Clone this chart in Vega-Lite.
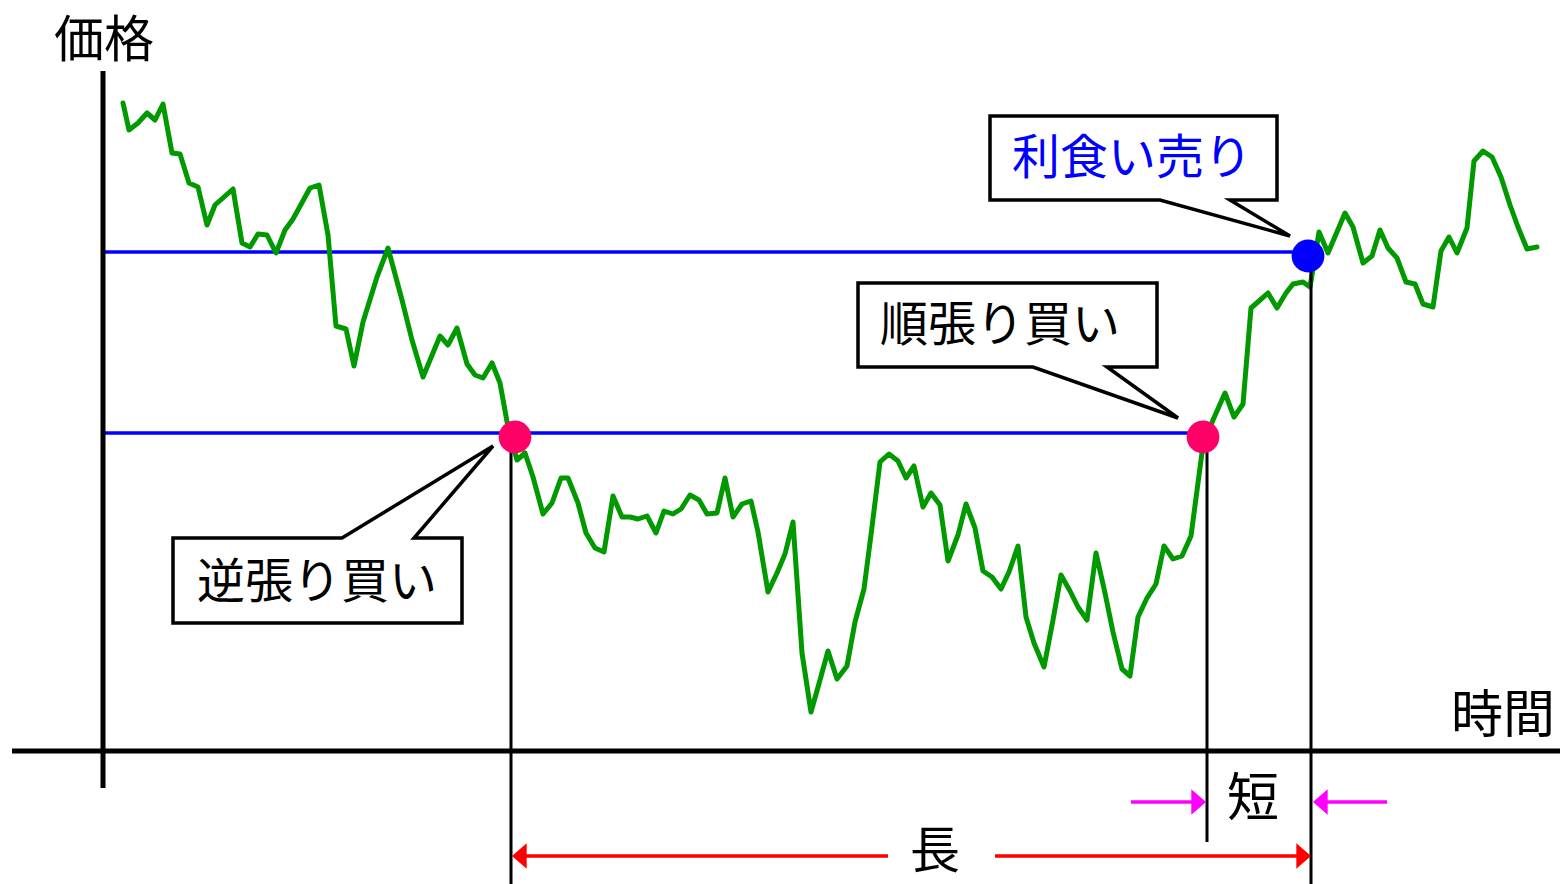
{
  "$schema": "https://vega.github.io/schema/vega-lite/v6.json",
  "width": 1560,
  "height": 884,
  "autosize": {"type": "none"},
  "padding": 0,
  "background": "white",
  "config": {"view": {"stroke": null}},
  "resolve": {"scale": {"color": "independent", "shape": "independent"}},
  "encoding": {
    "x": {"field": "x", "type": "quantitative", "scale": {"domain": [0, 1560], "nice": false, "zero": false}, "axis": null},
    "y": {"field": "y", "type": "quantitative", "scale": {"domain": [0, 884], "reverse": true, "nice": false, "zero": false}, "axis": null}
  },
  "layer": [
    {
      "data": {"values": [{"x": 104, "x2": 1200, "y": 433}, {"x": 104, "x2": 1300, "y": 252}]},
      "mark": {"type": "rule", "color": "#0000ff", "strokeWidth": 3.5},
      "encoding": {"x2": {"field": "x2"}}
    },
    {
      "data": {"values": [
        {"x":123,"y":103},{"x":129,"y":130},{"x":138,"y":123},{"x":147,"y":113},{"x":155,"y":120},{"x":163,"y":104},{"x":172,"y":153},{"x":180,"y":154},{"x":189,"y":183},{"x":198,"y":187},{"x":207,"y":225},{"x":215,"y":205},{"x":233,"y":189},{"x":242,"y":243},{"x":250,"y":247},{"x":258,"y":234},{"x":267,"y":235},{"x":276,"y":253},{"x":285,"y":230},{"x":293,"y":219},{"x":310,"y":188},{"x":319,"y":185},{"x":328,"y":235},{"x":336,"y":326},{"x":346,"y":329},{"x":354,"y":366},{"x":363,"y":322},{"x":377,"y":277},{"x":388,"y":248},{"x":402,"y":300},{"x":412,"y":340},{"x":423,"y":377},{"x":440,"y":336},{"x":448,"y":345},{"x":457,"y":328},{"x":467,"y":364},{"x":475,"y":375},{"x":483,"y":378},{"x":492,"y":363},{"x":500,"y":383},{"x":508,"y":427},{"x":517,"y":460},{"x":525,"y":453},{"x":533,"y":477},{"x":543,"y":514},{"x":552,"y":503},{"x":561,"y":478},{"x":568,"y":478},{"x":578,"y":503},{"x":586,"y":533},{"x":595,"y":548},{"x":604,"y":552},{"x":613,"y":496},{"x":622,"y":517},{"x":630,"y":517},{"x":638,"y":519},{"x":647,"y":516},{"x":656,"y":533},{"x":664,"y":511},{"x":673,"y":514},{"x":681,"y":509},{"x":690,"y":495},{"x":699,"y":500},{"x":707,"y":514},{"x":717,"y":513},{"x":725,"y":478},{"x":733,"y":517},{"x":742,"y":504},{"x":751,"y":501},{"x":758,"y":532},{"x":768,"y":592},{"x":777,"y":573},{"x":785,"y":554},{"x":793,"y":522},{"x":802,"y":653},{"x":811,"y":712},{"x":820,"y":680},{"x":828,"y":651},{"x":837,"y":679},{"x":847,"y":666},{"x":855,"y":622},{"x":864,"y":589},{"x":872,"y":527},{"x":880,"y":462},{"x":889,"y":454},{"x":898,"y":461},{"x":906,"y":478},{"x":914,"y":466},{"x":923,"y":507},{"x":931,"y":493},{"x":940,"y":505},{"x":948,"y":561},{"x":958,"y":535},{"x":966,"y":504},{"x":975,"y":528},{"x":983,"y":571},{"x":992,"y":577},{"x":1001,"y":589},{"x":1009,"y":572},{"x":1018,"y":546},{"x":1026,"y":617},{"x":1034,"y":643},{"x":1044,"y":667},{"x":1053,"y":620},{"x":1061,"y":575},{"x":1070,"y":591},{"x":1078,"y":607},{"x":1087,"y":620},{"x":1096,"y":553},{"x":1105,"y":593},{"x":1113,"y":632},{"x":1122,"y":669},{"x":1130,"y":676},{"x":1138,"y":617},{"x":1147,"y":598},{"x":1156,"y":584},{"x":1164,"y":546},{"x":1173,"y":559},{"x":1182,"y":556},{"x":1191,"y":536},{"x":1203,"y":445},{"x":1213,"y":420},{"x":1225,"y":393},{"x":1234,"y":417},{"x":1243,"y":404},{"x":1251,"y":308},{"x":1259,"y":301},{"x":1268,"y":293},{"x":1277,"y":308},{"x":1286,"y":293},{"x":1293,"y":284},{"x":1303,"y":282},{"x":1310,"y":287},{"x":1319,"y":232},{"x":1328,"y":253},{"x":1345,"y":213},{"x":1353,"y":227},{"x":1363,"y":263},{"x":1372,"y":256},{"x":1380,"y":230},{"x":1388,"y":248},{"x":1397,"y":258},{"x":1406,"y":282},{"x":1415,"y":284},{"x":1423,"y":304},{"x":1433,"y":307},{"x":1441,"y":251},{"x":1449,"y":237},{"x":1457,"y":253},{"x":1467,"y":228},{"x":1474,"y":161},{"x":1483,"y":151},{"x":1492,"y":157},{"x":1501,"y":177},{"x":1510,"y":205},{"x":1518,"y":227},{"x":1527,"y":249},{"x":1537,"y":247}
      ]},
      "mark": {"type": "line", "color": "#009900", "strokeWidth": 5, "strokeJoin": "round", "strokeCap": "round"},
      "encoding": {}
    },
    {
      "data": {"values": [{"x": 511, "y": 437, "y2": 884}, {"x": 1207, "y": 437, "y2": 842}, {"x": 1311, "y": 256, "y2": 884}]},
      "mark": {"type": "rule", "color": "#000000", "strokeWidth": 3},
      "encoding": {"y2": {"field": "y2"}}
    },
    {
      "data": {"values": [{"x": 12, "x2": 1560, "y": 751, "y2": 751}, {"x": 103, "x2": 103, "y": 71, "y2": 788}]},
      "mark": {"type": "rule", "color": "#000000", "strokeWidth": 5},
      "encoding": {"x2": {"field": "x2"}, "y2": {"field": "y2"}}
    },
    {
      "data": {"values": [
        {"id": "A", "o": 0, "x": 173, "y": 538}, {"id": "A", "o": 1, "x": 342, "y": 538}, {"id": "A", "o": 2, "x": 493, "y": 446}, {"id": "A", "o": 3, "x": 414, "y": 538}, {"id": "A", "o": 4, "x": 462, "y": 538}, {"id": "A", "o": 5, "x": 462, "y": 623}, {"id": "A", "o": 6, "x": 173, "y": 623}, {"id": "A", "o": 7, "x": 173, "y": 538},
        {"id": "B", "o": 0, "x": 858, "y": 283}, {"id": "B", "o": 1, "x": 1157, "y": 283}, {"id": "B", "o": 2, "x": 1157, "y": 367}, {"id": "B", "o": 3, "x": 1107, "y": 367}, {"id": "B", "o": 4, "x": 1178, "y": 418}, {"id": "B", "o": 5, "x": 1033, "y": 367}, {"id": "B", "o": 6, "x": 858, "y": 367}, {"id": "B", "o": 7, "x": 858, "y": 283},
        {"id": "C", "o": 0, "x": 990, "y": 116}, {"id": "C", "o": 1, "x": 1277, "y": 116}, {"id": "C", "o": 2, "x": 1277, "y": 200}, {"id": "C", "o": 3, "x": 1230, "y": 200}, {"id": "C", "o": 4, "x": 1290, "y": 236}, {"id": "C", "o": 5, "x": 1160, "y": 200}, {"id": "C", "o": 6, "x": 990, "y": 200}, {"id": "C", "o": 7, "x": 990, "y": 116}
      ]},
      "mark": {"type": "line", "color": "#000000", "strokeWidth": 3.5, "strokeJoin": "miter", "strokeCap": "square"},
      "encoding": {"detail": {"field": "id"}, "order": {"field": "o", "type": "quantitative"}}
    },
    {
      "data": {"values": [{"x": 515, "y": 437, "kind": "buy"}, {"x": 1203, "y": 437, "kind": "buy"}, {"x": 1308, "y": 256, "kind": "sell"}]},
      "mark": {"type": "point", "shape": "circle", "filled": true, "opacity": 1, "size": 1075},
      "encoding": {"color": {"field": "kind", "type": "nominal", "scale": {"domain": ["buy", "sell"], "range": ["#ff0066", "#0000ff"]}, "legend": null}}
    },
    {
      "data": {"values": [{"x": 515, "x2": 888, "y": 856}, {"x": 995, "x2": 1300, "y": 856}]},
      "mark": {"type": "rule", "color": "#ff0000", "strokeWidth": 3.5},
      "encoding": {"x2": {"field": "x2"}}
    },
    {
      "data": {"values": [{"x": 1131, "x2": 1195, "y": 802}, {"x": 1318, "x2": 1387, "y": 802}]},
      "mark": {"type": "rule", "color": "#ff00ff", "strokeWidth": 3.5},
      "encoding": {"x2": {"field": "x2"}}
    },
    {
      "data": {"values": [{"x": 512, "y": 856, "dir": "left", "kind": "long"}, {"x": 1311, "y": 856, "dir": "right", "kind": "long"}, {"x": 1206, "y": 802, "dir": "right", "kind": "short"}, {"x": 1313, "y": 802, "dir": "left", "kind": "short"}]},
      "mark": {"type": "point", "filled": true, "opacity": 1, "size": 650},
      "encoding": {
        "shape": {"field": "dir", "type": "nominal", "scale": {"domain": ["left", "right"], "range": ["M0,0L1.15,-1L1.15,1Z", "M0,0L-1.15,-1L-1.15,1Z"]}, "legend": null},
        "color": {"field": "kind", "type": "nominal", "scale": {"domain": ["long", "short"], "range": ["#ff0000", "#ff00ff"]}, "legend": null}
      }
    },
    {
      "data": {"values": [{"x": 1503, "y": 717, "label": "時間"}, {"x": 1253, "y": 800, "label": "短"}]},
      "mark": {"type": "text", "font": "Noto Sans CJK JP", "fontSize": 52, "color": "#000000", "align": "center", "baseline": "middle"},
      "encoding": {"text": {"field": "label"}}
    },
    {
      "data": {"values": [{"x": 104, "y": 42, "label": "価格"}, {"x": 935, "y": 853, "label": "長"}]},
      "mark": {"type": "text", "font": "Noto Sans CJK JP", "fontSize": 50, "color": "#000000", "align": "center", "baseline": "middle"},
      "encoding": {"text": {"field": "label"}}
    },
    {
      "data": {"values": [{"x": 317, "y": 584, "label": "逆張り買い"}, {"x": 1000, "y": 327, "label": "順張り買い"}]},
      "mark": {"type": "text", "font": "Noto Sans CJK JP", "fontSize": 48, "color": "#000000", "align": "center", "baseline": "middle"},
      "encoding": {"text": {"field": "label"}}
    },
    {
      "data": {"values": [{"x": 1132, "y": 160, "label": "利食い売り"}]},
      "mark": {"type": "text", "font": "Noto Sans CJK JP", "fontSize": 48, "color": "#0000ff", "align": "center", "baseline": "middle"},
      "encoding": {"text": {"field": "label"}}
    }
  ]
}
